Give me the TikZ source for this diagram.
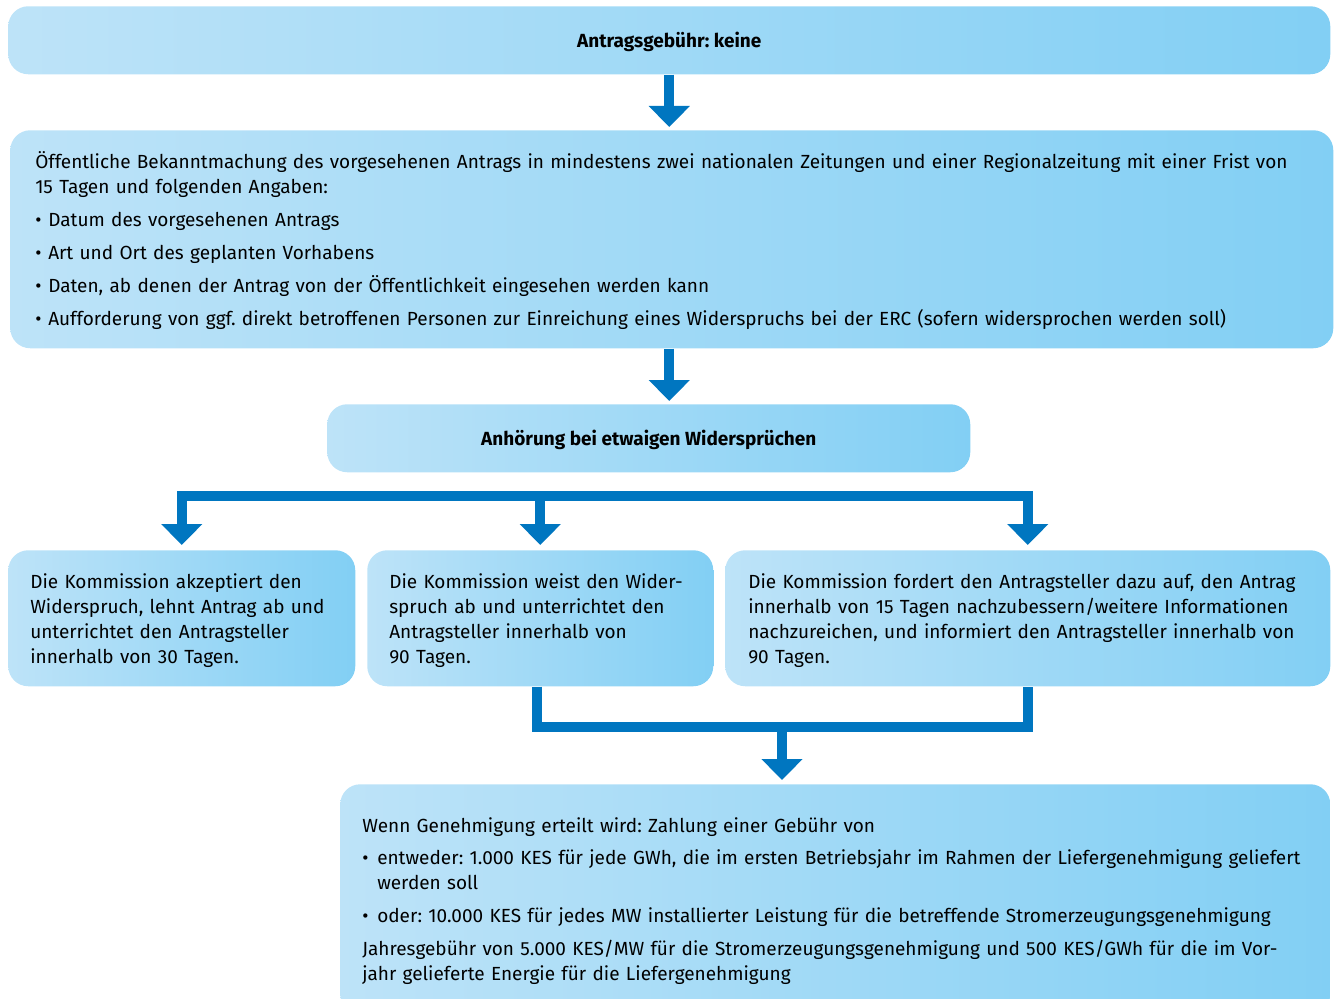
\documentclass[tikz,border=0pt]{standalone}
\usepackage{fontspec}
\setmainfont{Fira Sans}
\usetikzlibrary{arrows.meta,calc}
\newdimen\pxu \pxu=0.75pt
\definecolor{blA}{RGB}{189,227,248}
\definecolor{blB}{RGB}{130,207,244}
\definecolor{arr}{RGB}{0,118,192}
\newcommand\bulA{\makebox[13\pxu][l]{•}}
\newcommand\bulB{\makebox[15\pxu][l]{•}}
\tikzset{
  box/.style={anchor=north west, rounded corners=15pt, left color=blA, right color=blB,
    draw=none, inner ysep=0pt, font=\fontsize{14.25}{18.75}\selectfont\frenchspacing,
    execute at begin node={\rule{0pt}{14.5pt}}},
  tbox/.style={box, align=left},
  conn/.style={draw=arr, line width=7.5pt, line join=miter, -{Triangle[width=30pt,length=15.75pt]}},
  connline/.style={draw=arr, line width=7.5pt, line join=miter},
}
\begin{document}
\begin{tikzpicture}[x=0.75pt,y=-0.75pt]
\useasboundingbox (0,0) rectangle (1336,999);
\node[box, minimum width=1322\pxu, minimum height=68\pxu] (top) at (8,6) {\bfseries Antragsgebühr: keine};
\node[tbox, text width=1273\pxu, inner xsep=25\pxu, minimum height=218\pxu] (bek) at (10,130) {%
Öffentliche Bekanntmachung des vorgesehenen Antrags in mindestens zwei nationalen Zeitungen und einer Regionalzeitung mit einer Frist von\\
15 Tagen und folgenden Angaben:\\[6pt]
\bulA Datum des vorgesehenen Antrags\\[6pt]
\bulA Art und Ort des geplanten Vorhabens\\[6pt]
\bulA Daten, ab denen der Antrag von der Öffentlichkeit eingesehen werden kann\\[6pt]
\bulA Aufforderung von ggf. direkt betroffenen Personen zur Einreichung eines Widerspruchs bei der ERC (sofern widersprochen werden soll)};
\node[box, minimum width=643\pxu, minimum height=68\pxu] (anh) at (327,404) {\bfseries Anhörung bei etwaigen Widersprüchen};
\node[tbox, text width=303\pxu, inner xsep=22\pxu, minimum height=136\pxu] (A) at (8,550) {%
Die Kommission akzeptiert den\\
Widerspruch, lehnt Antrag ab und\\
unterrichtet den Antragsteller\\
innerhalb von 30 Tagen.};
\node[tbox, text width=302\pxu, inner xsep=22\pxu, minimum height=136\pxu] (B) at (367,550) {%
Die Kommission weist den Wider-\\
spruch ab und unterrichtet den\\
Antragsteller innerhalb von\\
90 Tagen.};
\node[tbox, text width=559\pxu, inner xsep=23\pxu, minimum height=136\pxu] (C) at (725,550) {%
Die Kommission fordert den Antragsteller dazu auf, den Antrag\\
innerhalb von 15 Tagen nachzubessern/weitere Informationen\\
nachzureichen, und informiert den Antragsteller innerhalb von\\
90 Tagen.};
\node[tbox, text width=946\pxu, inner xsep=22\pxu, minimum height=230\pxu] (D) at (340,784) {%
Wenn Genehmigung erteilt wird: Zahlung einer Gebühr von\\[5.25pt]
\bulB entweder: 1.000 KES für jede GWh, die im ersten Betriebsjahr im Rahmen der Liefergenehmigung geliefert\\
\hspace*{15\pxu}werden soll\\[6pt]
\bulB oder: 10.000 KES für jedes MW installierter Leistung für die betreffende Stromerzeugungsgenehmigung\\[6pt]
Jahresgebühr von 5.000 KES/MW für die Stromerzeugungsgenehmigung und 500 KES/GWh für die im Vor-\\
jahr gelieferte Energie für die Liefergenehmigung};
% connectors
\draw[conn] (top.south) -- ($(top.south |- bek.north)+(0,-3)$);
\draw[conn] (top.south |- bek.south) -- ($(top.south |- anh.north)+(0,-3)$);
\coordinate (barY) at (0,496);
\draw[conn] (C.north |- barY) -| ($(A.north)+(0,-5)$);
\draw[conn] ($(C.north |- barY)+(0,-5)$) -- ($(C.north)+(0,-5)$);
\draw[conn] (B.north |- barY) -- ($(B.north)+(0,-5)$);
\coordinate (mergeY) at (0,727);
\coordinate (mrg) at (782,727);
\draw[connline] ($(B.south)+(-3,0)$) |- (mergeY -| C.south) -- (C.south);
\draw[conn] (mrg) -- ($(mrg |- D.north)+(0,-4)$);
\end{tikzpicture}
\end{document}
